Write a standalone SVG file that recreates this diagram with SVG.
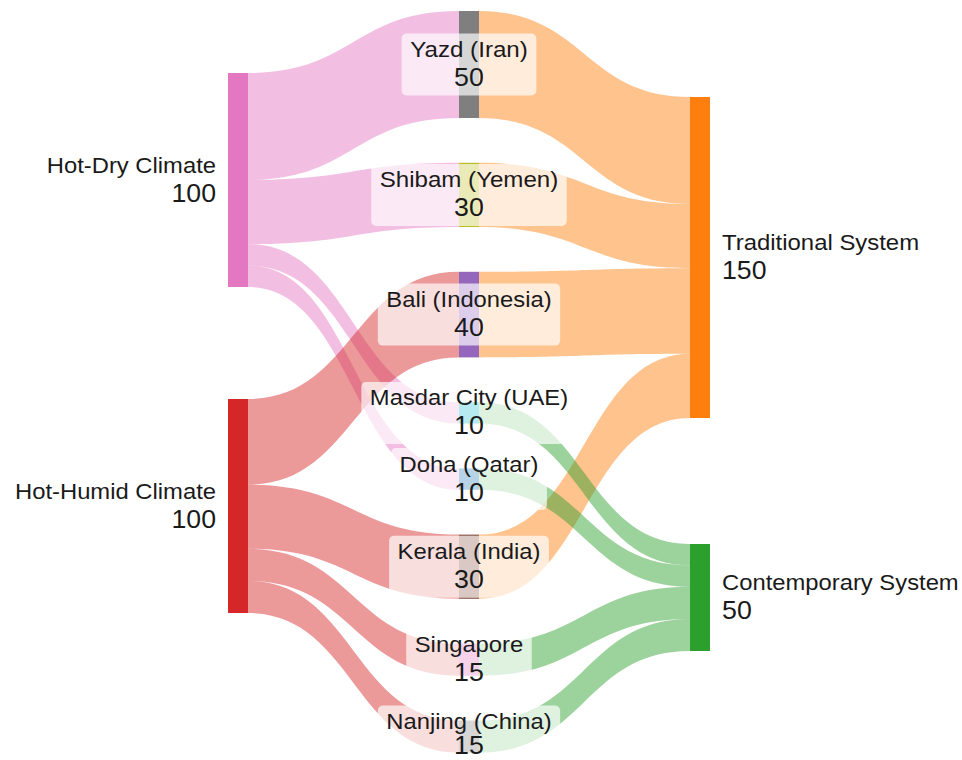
<svg xmlns="http://www.w3.org/2000/svg" width="962" height="760" viewBox="0 0 962 760">
<style>
.lk{fill-opacity:0.47;stroke:none}
.pk{fill:#e377c2}.rd{fill:#d62728}.or{fill:#ff7f0e}.gr{fill:#2ca02c}
.box{fill:#ffffff;fill-opacity:0.68;stroke:none}
.nm{font-family:"Liberation Sans",Arial,sans-serif;font-size:22px;fill:#1a1a1a}
.vl{font-family:"Liberation Sans",Arial,sans-serif;font-size:25.5px;fill:#1a1a1a}
.c{text-anchor:middle}.e{text-anchor:end}.s{text-anchor:start}
</style>
<rect width="962" height="760" fill="#ffffff"/>
<g id="connectors">
<path class="lk pk" d="M248,73 C353.5,73 353.5,11 459,11 L459,118 C353.5,118 353.5,180 248,180 Z"/>
<path class="lk pk" d="M248,180 C353.5,180 353.5,162.8 459,162.8 L459,227 C353.5,227 353.5,244.2 248,244.2 Z"/>
<path class="lk pk" d="M248,244.2 C353.5,244.2 353.5,402.2 459,402.2 L459,423.6 C353.5,423.6 353.5,265.6 248,265.6 Z"/>
<path class="lk pk" d="M248,265.6 C353.5,265.6 353.5,468.4 459,468.4 L459,489.8 C353.5,489.8 353.5,287 248,287 Z"/>
<path class="lk rd" d="M248,399 C353.5,399 353.5,271.8 459,271.8 L459,357.4 C353.5,357.4 353.5,484.6 248,484.6 Z"/>
<path class="lk rd" d="M248,484.6 C353.5,484.6 353.5,534.6 459,534.6 L459,598.8 C353.5,598.8 353.5,548.8 248,548.8 Z"/>
<path class="lk rd" d="M248,548.8 C353.5,548.8 353.5,643.6 459,643.6 L459,675.7 C353.5,675.7 353.5,580.9 248,580.9 Z"/>
<path class="lk rd" d="M248,580.9 C353.5,580.9 353.5,720.5 459,720.5 L459,752.6 C353.5,752.6 353.5,613 248,613 Z"/>
<path class="lk or" d="M479,11 C584.5,11 584.5,97 690,97 L690,204 C584.5,204 584.5,118 479,118 Z"/>
<path class="lk or" d="M479,162.8 C584.5,162.8 584.5,204 690,204 L690,268.2 C584.5,268.2 584.5,227 479,227 Z"/>
<path class="lk or" d="M479,271.8 C584.5,271.8 584.5,268.2 690,268.2 L690,353.8 C584.5,353.8 584.5,357.4 479,357.4 Z"/>
<path class="lk or" d="M479,534.6 C584.5,534.6 584.5,353.8 690,353.8 L690,418 C584.5,418 584.5,598.8 479,598.8 Z"/>
<path class="lk gr" d="M479,402.2 C584.5,402.2 584.5,544 690,544 L690,565.4 C584.5,565.4 584.5,423.6 479,423.6 Z"/>
<path class="lk gr" d="M479,468.4 C584.5,468.4 584.5,565.4 690,565.4 L690,586.8 C584.5,586.8 584.5,489.8 479,489.8 Z"/>
<path class="lk gr" d="M479,643.6 C584.5,643.6 584.5,586.8 690,586.8 L690,618.9 C584.5,618.9 584.5,675.7 479,675.7 Z"/>
<path class="lk gr" d="M479,720.5 C584.5,720.5 584.5,618.9 690,618.9 L690,651 C584.5,651 584.5,752.6 479,752.6 Z"/>
</g>
<g id="node-hot-dry">
<rect x="228" y="73" width="20" height="214" fill="#e377c2"/>
<text class="nm e" x="216" y="172.5" textLength="169.2" lengthAdjust="spacingAndGlyphs">Hot-Dry Climate</text>
<text class="vl e" x="216" y="201.5" textLength="44.5" lengthAdjust="spacingAndGlyphs">100</text>
</g>
<g id="node-hot-humid">
<rect x="228" y="399" width="20" height="214" fill="#d62728"/>
<text class="nm e" x="216" y="498.5" textLength="201" lengthAdjust="spacingAndGlyphs">Hot-Humid Climate</text>
<text class="vl e" x="216" y="527.5" textLength="44.5" lengthAdjust="spacingAndGlyphs">100</text>
</g>
<g id="node-traditional">
<rect x="690" y="97" width="20" height="321" fill="#ff7f0e"/>
<text class="nm s" x="722" y="250" textLength="197.1" lengthAdjust="spacingAndGlyphs">Traditional System</text>
<text class="vl s" x="722" y="279" textLength="44.5" lengthAdjust="spacingAndGlyphs">150</text>
</g>
<g id="node-contemporary">
<rect x="690" y="544" width="20" height="107" fill="#2ca02c"/>
<text class="nm s" x="722" y="590" textLength="236.7" lengthAdjust="spacingAndGlyphs">Contemporary System</text>
<text class="vl s" x="722" y="619" textLength="29.8" lengthAdjust="spacingAndGlyphs">50</text>
</g>
<g id="node-yazd">
<rect x="459" y="11" width="20" height="107" fill="#7f7f7f"/>
<rect class="box" x="401.65" y="33.5" width="134.7" height="62" rx="5"/>
<text class="nm c" x="469" y="57" textLength="117.7" lengthAdjust="spacingAndGlyphs">Yazd (Iran)</text>
<text class="vl c" x="469" y="86" textLength="29.8" lengthAdjust="spacingAndGlyphs">50</text>
</g>
<g id="node-shibam">
<rect x="459" y="162.8" width="20" height="64.2" fill="#bcbd22"/>
<rect class="box" x="371.25" y="163.9" width="195.5" height="62" rx="5"/>
<text class="nm c" x="469" y="187.4" textLength="178.5" lengthAdjust="spacingAndGlyphs">Shibam (Yemen)</text>
<text class="vl c" x="469" y="216.4" textLength="29.8" lengthAdjust="spacingAndGlyphs">30</text>
</g>
<g id="node-bali">
<rect x="459" y="271.8" width="20" height="85.6" fill="#9467bd"/>
<rect class="box" x="377.85" y="283.6" width="182.3" height="62" rx="5"/>
<text class="nm c" x="469" y="307.1" textLength="165.3" lengthAdjust="spacingAndGlyphs">Bali (Indonesia)</text>
<text class="vl c" x="469" y="336.1" textLength="29.8" lengthAdjust="spacingAndGlyphs">40</text>
</g>
<g id="node-masdar">
<rect x="459" y="402.2" width="20" height="21.4" fill="#17becf"/>
<rect class="box" x="361.35" y="381.9" width="215.3" height="62" rx="5"/>
<text class="nm c" x="469" y="405.4" textLength="198.3" lengthAdjust="spacingAndGlyphs">Masdar City (UAE)</text>
<text class="vl c" x="469" y="434.4" textLength="29.8" lengthAdjust="spacingAndGlyphs">10</text>
</g>
<g id="node-doha">
<rect x="459" y="468.4" width="20" height="21.4" fill="#1f77b4"/>
<rect class="box" x="391.05" y="448.1" width="155.9" height="62" rx="5"/>
<text class="nm c" x="469" y="471.6" textLength="138.9" lengthAdjust="spacingAndGlyphs">Doha (Qatar)</text>
<text class="vl c" x="469" y="500.6" textLength="29.8" lengthAdjust="spacingAndGlyphs">10</text>
</g>
<g id="node-kerala">
<rect x="459" y="534.6" width="20" height="64.2" fill="#8c564b"/>
<rect class="box" x="389.1" y="535.7" width="159.8" height="62" rx="5"/>
<text class="nm c" x="469" y="559.2" textLength="142.8" lengthAdjust="spacingAndGlyphs">Kerala (India)</text>
<text class="vl c" x="469" y="588.2" textLength="29.8" lengthAdjust="spacingAndGlyphs">30</text>
</g>
<g id="node-singapore">
<rect x="459" y="643.6" width="20" height="32.1" fill="#e377c2"/>
<rect class="box" x="406.25" y="628.65" width="125.5" height="62" rx="5"/>
<text class="nm c" x="469" y="652" textLength="108.5" lengthAdjust="spacingAndGlyphs">Singapore</text>
<text class="vl c" x="469" y="681" textLength="29.8" lengthAdjust="spacingAndGlyphs">15</text>
</g>
<g id="node-nanjing">
<rect x="459" y="720.5" width="20" height="32.1" fill="#7f7f7f"/>
<rect class="box" x="377.85" y="705.55" width="182.3" height="62" rx="5"/>
<text class="nm c" x="469" y="728.5" textLength="165.3" lengthAdjust="spacingAndGlyphs">Nanjing (China)</text>
<text class="vl c" x="469" y="754" textLength="29.8" lengthAdjust="spacingAndGlyphs">15</text>
</g>
</svg>
